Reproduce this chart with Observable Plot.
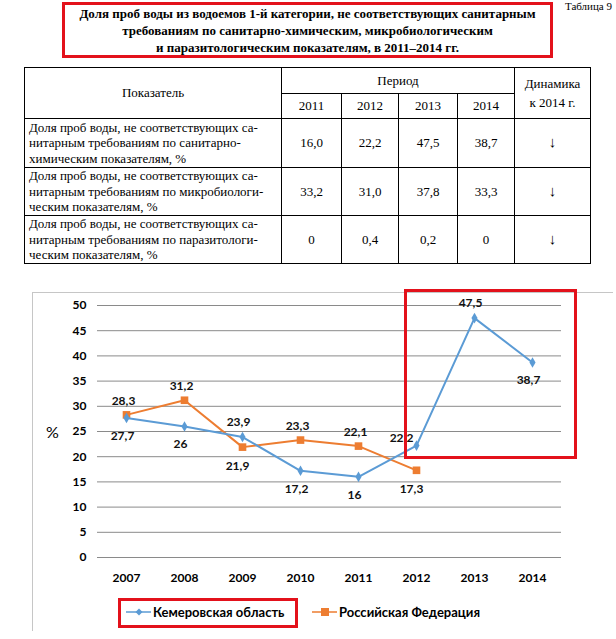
<!DOCTYPE html>
<html><head><meta charset="utf-8">
<script src="https://cdn.jsdelivr.net/npm/d3@7"></script>
<script src="https://cdn.jsdelivr.net/npm/@observablehq/plot@0.6"></script>
<style>
body{margin:0;background:#fff;}
#page{position:relative;width:616px;height:639px;overflow:hidden;font-family:"Liberation Serif",serif;color:#000;}
.abs{position:absolute;}
#tnum{top:0px;left:540px;width:72px;text-align:right;font-size:11px;line-height:12px;white-space:nowrap;}
#title{left:62px;top:2px;width:491px;height:56px;box-sizing:border-box;border:3px solid #e3111b;text-align:center;font-weight:bold;font-size:13px;line-height:17px;}
#tbl{left:24px;top:67px;border-collapse:collapse;font-size:13px;line-height:15.5px;table-layout:fixed;}
#tbl td{border:1px solid #000;padding:0;text-align:center;vertical-align:middle;}
#tbl td.ind{text-align:left;padding-left:4px;white-space:pre-line;}
#frame{left:32px;top:292px;width:580px;height:338px;border-left:1px solid #c6c6c6;border-top:1px solid #c6c6c6;}
#hl{left:404px;top:289px;width:173px;height:170px;box-sizing:border-box;border:3px solid #e3111b;}
#pct{left:46px;top:422px;font-family:Lato,sans-serif;font-size:16px;}
#lgbox{left:118px;top:598px;width:180px;height:30px;box-sizing:border-box;border:3px solid #e3111b;}
.lgtext{font-family:Lato,sans-serif;font-weight:bold;font-size:13px;line-height:16px;top:604px;white-space:nowrap;}
</style></head>
<body><div id="page"></div>
<script>
// ---- data ----
const years = ["2007","2008","2009","2010","2011","2012","2013","2014"];
const kemerovo = [27.7, 26, 23.9, 17.2, 16, 22.2, 47.5, 38.7];
const russia = [28.3, 31.2, 21.9, 23.3, 22.1, 17.3];
const yTicks = [0, 5, 10, 15, 20, 25, 30, 35, 40, 45, 50];
const seriesNames = ["Кемеровская область", "Российская Федерация"];
const seriesColors = ["#5b9bd5", "#ed7d31"];

const titleLines = [
  "Доля проб воды из водоемов 1-й категории, не соответствующих санитарным",
  "требованиям по санитарно-химическим, микробиологическим",
  "и паразитологическим показателям, в 2011–2014 гг."
];
const tableNumber = "Таблица 9";
const tableYears = ["2011", "2012", "2013", "2014"];
const tableIndicators = [
  "Доля проб воды, не соответствующих са-\nнитарным требованиям по санитарно-\nхимическим показателям, %",
  "Доля проб воды, не соответствующих са-\nнитарным требованиям по микробиологи-\nческим показателям, %",
  "Доля проб воды, не соответствующих са-\nнитарным требованиям по паразитологи-\nческим показателям, %"
];
const chemValues = ["16,0", "22,2", "47,5", "38,7"];
const microValues = ["33,2", "31,0", "37,8", "33,3"];
const parasValues = ["0", "0,4", "0,2", "0"];
const dynamics = ["↓", "↓", "↓"];

// ---- page ----
const page = document.getElementById("page");
function el(tag, cls, id, html){const e=document.createElement(tag); if(cls) e.className=cls; if(id) e.id=id; if(html!=null) e.innerHTML=html; return e;}

const tn = el("div","abs","tnum"); tn.textContent = tableNumber; page.appendChild(tn);
const title = el("div","abs","title"); title.innerHTML = titleLines.join("<br>"); page.appendChild(title);

// table
const tbl = el("table","abs","tbl");
const colW = [257, 60, 57, 59, 57, 76];
const cg = document.createElement("colgroup");
colW.forEach(w=>{const c=document.createElement("col"); c.style.width=w+"px"; cg.appendChild(c);});
tbl.appendChild(cg);
let tr = document.createElement("tr"); tr.style.height="26px";
let td = document.createElement("td"); td.rowSpan=2; td.textContent="Показатель"; tr.appendChild(td);
td = document.createElement("td"); td.colSpan=4; td.textContent="Период"; tr.appendChild(td);
td = document.createElement("td"); td.rowSpan=2; td.innerHTML="Динамика<br>к 2014 г."; td.style.lineHeight="19px"; tr.appendChild(td);
tbl.appendChild(tr);
tr = document.createElement("tr"); tr.style.height="25px";
tableYears.forEach(y=>{const t=document.createElement("td"); t.textContent=y; tr.appendChild(t);});
tbl.appendChild(tr);
const rowsVals = [chemValues, microValues, parasValues];
const rowH = [49, 48, 48];
tableIndicators.forEach((ind,i)=>{
  const r=document.createElement("tr"); r.style.height=rowH[i]+"px";
  const a=document.createElement("td"); a.className="ind"; a.textContent=ind; r.appendChild(a);
  rowsVals[i].forEach(v=>{const t=document.createElement("td"); t.textContent=v; r.appendChild(t);});
  const d=document.createElement("td"); d.textContent=dynamics[i]; d.style.fontSize="15px"; r.appendChild(d);
  tbl.appendChild(r);
});
page.appendChild(tbl);

page.appendChild(el("div","abs","frame"));

// ---- chart ----
const fmt = v => String(v).replace(".", ",");
const kem = years.map((y,i)=>({year:y, v:kemerovo[i], prev:i>0?kemerovo[i-1]:null, other: i<russia.length?russia[i]:null}));
const rf = russia.map((v,i)=>({year:years[i], v, other:kemerovo[i]}));
// label above when this series is the higher one (or rising, when alone)
const kemAbove = d => d.other != null ? d.v > d.other : d.v > d.prev;
const rfAbove = d => d.v > d.other;
// a label that sits right above a crossing is nudged to the left, off the lines
const nearCross = d => d.other != null && Math.abs(d.v - d.other) > 4 && d.prev != null && d.prev < d.other;

const lbl = {x:"year", y:"v", text:d=>fmt(d.v), fontWeight:"bold", fontSize:12, fill:"#111"};
const chart = Plot.plot({
  width:616, height:359,
  marginLeft:97, marginRight:55, marginTop:25, marginBottom:82,
  style:{fontFamily:"Lato, sans-serif", fontSize:"12px", color:"#000", background:"transparent"},
  x:{type:"point", domain:years, padding:0.5, label:null},
  y:{domain:[0,50], label:null},
  marks:[
    Plot.gridY(yTicks, {stroke:"#8a8a8a", strokeOpacity:1, strokeWidth:1}),
    Plot.axisY(yTicks, {tickSize:0, tickPadding:11, fontWeight:"bold", fontSize:12, label:null}),
    Plot.axisX({tickSize:0, tickPadding:16, fontWeight:"bold", fontSize:12, label:null}),
    Plot.line(rf, {x:"year", y:"v", stroke:seriesColors[1], strokeWidth:2}),
    Plot.dot(rf, {x:"year", y:"v", symbol:"square", r:4.3, fill:seriesColors[1], stroke:null}),
    Plot.line(kem, {x:"year", y:"v", stroke:seriesColors[0], strokeWidth:2}),
    Plot.dot(kem, {x:"year", y:"v", symbol:"diamond", r:3.2, fill:seriesColors[0], stroke:null}),
    Plot.text(kem, {...lbl, filter:d=>kemAbove(d) && !nearCross(d), dx:-4, dy:-15}),
    Plot.text(kem, {...lbl, filter:d=>kemAbove(d) && nearCross(d), dx:-15, dy:-7}),
    Plot.text(kem, {...lbl, filter:d=>!kemAbove(d), dx:-4, dy:18}),
    Plot.text(rf, {...lbl, filter:d=>rfAbove(d), dx:-3, dy:-14}),
    Plot.text(rf, {...lbl, filter:d=>!rfAbove(d), dx:-5, dy:19})
  ]
});
chart.style.position="absolute"; chart.style.left="0px"; chart.style.top="280px";
page.appendChild(chart);

const pct = el("div","abs","pct"); pct.textContent="%"; page.appendChild(pct);
page.appendChild(el("div","abs","hl"));

// legend
page.appendChild(el("div","abs","lgbox"));
const lgX = [126, 312];
seriesNames.forEach((name,i)=>{
  const sw = document.createElementNS("http://www.w3.org/2000/svg","svg");
  sw.setAttribute("width","26"); sw.setAttribute("height","12");
  sw.style.position="absolute"; sw.style.left=lgX[i]+"px"; sw.style.top="606px";
  const ln = document.createElementNS("http://www.w3.org/2000/svg","line");
  ln.setAttribute("x1","0"); ln.setAttribute("x2","25"); ln.setAttribute("y1","6"); ln.setAttribute("y2","6");
  ln.setAttribute("stroke",seriesColors[i]); ln.setAttribute("stroke-width","1.5"); sw.appendChild(ln);
  if(i===0){
    const p=document.createElementNS("http://www.w3.org/2000/svg","path");
    p.setAttribute("d","M13,2.5L16.5,6L13,9.5L9.5,6Z"); p.setAttribute("fill",seriesColors[i]); sw.appendChild(p);
  } else {
    const r=document.createElementNS("http://www.w3.org/2000/svg","rect");
    r.setAttribute("x","9"); r.setAttribute("y","2"); r.setAttribute("width","8"); r.setAttribute("height","8"); r.setAttribute("fill",seriesColors[i]); sw.appendChild(r);
  }
  page.appendChild(sw);
  const t = el("div","abs lgtext"); t.textContent=name; t.style.left=(lgX[i]+27)+"px"; page.appendChild(t);
});
</script>
</body></html>
